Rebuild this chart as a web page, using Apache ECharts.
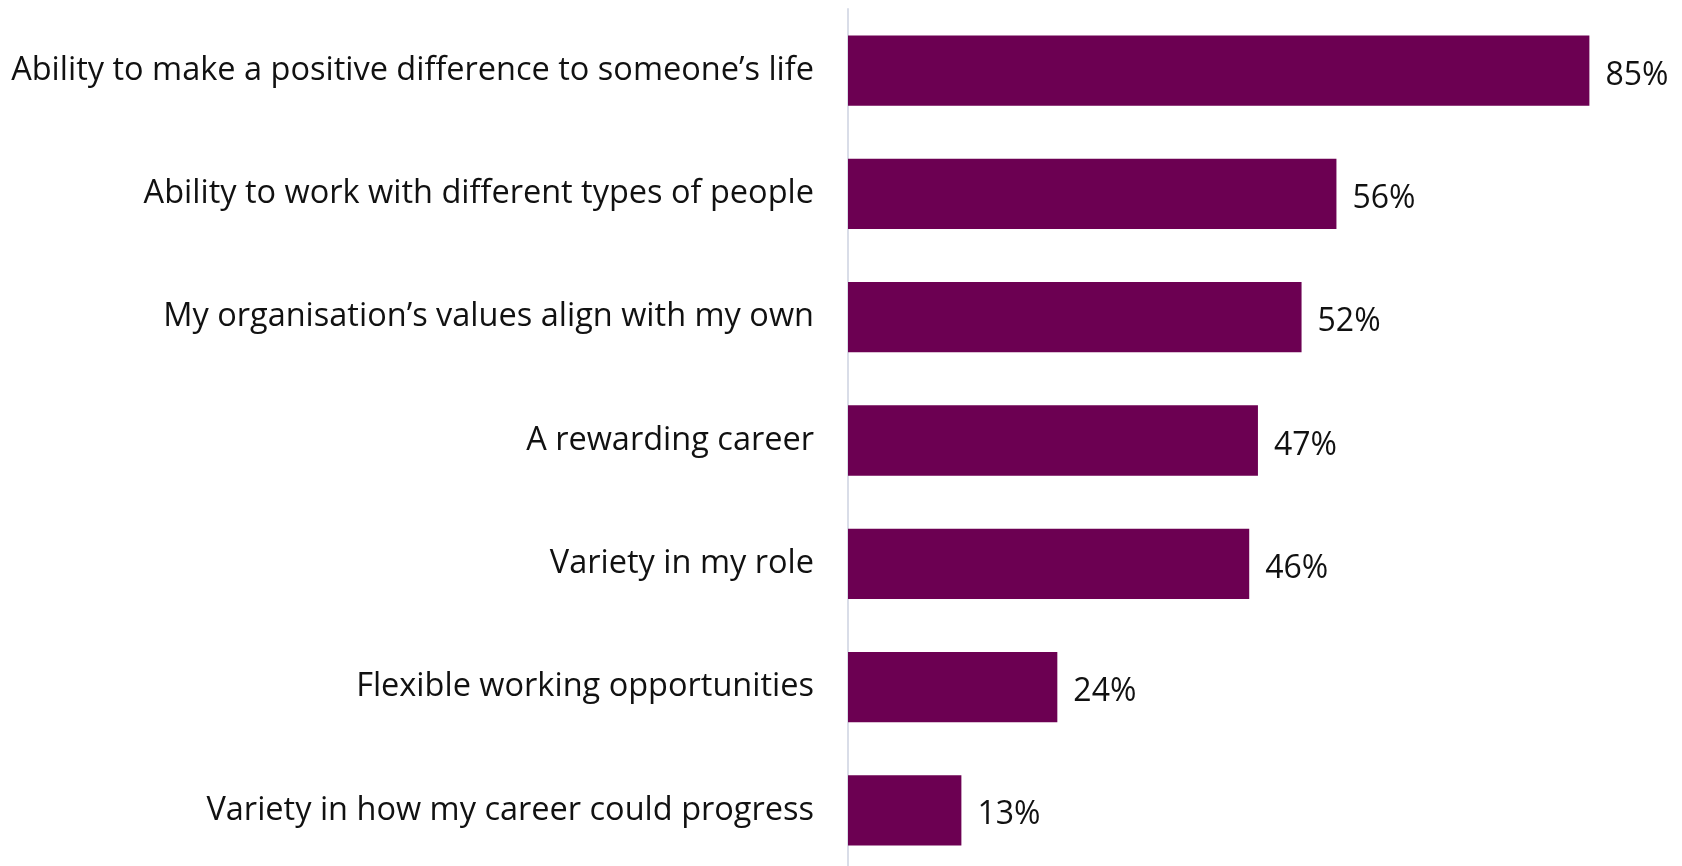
<!DOCTYPE html>
<html>
<head>
<meta charset="utf-8">
<script src="https://cdn.jsdelivr.net/npm/echarts@6/dist/echarts.min.js"></script>
<style>
  html, body { margin: 0; padding: 0; background: #ffffff; }
  #chart { width: 1682px; height: 866px; }
</style>
</head>
<body>
<div id="chart"></div>
<script>
// Reasons for working in the role, share of respondents (%)
const categories = [
  'Ability to make a positive difference to someone\u2019s life',
  'Ability to work with different types of people',
  'My organisation\u2019s values align with my own',
  'A rewarding career',
  'Variety in my role',
  'Flexible working opportunities',
  'Variety in how my career could progress'
];
const values = [85, 56, 52, 47, 46, 24, 13];

const chart = echarts.init(document.getElementById('chart'));
chart.setOption({
  animation: false,
  grid: {
    left: 848, top: 9, right: 49, bottom: -6,
    containLabel: false,
    outerBoundsMode: 'none'
  },
  xAxis: {
    type: 'value',
    min: 0,
    max: 90,
    show: false
  },
  yAxis: {
    type: 'category',
    data: categories,
    inverse: true,
    axisLine: { show: true, lineStyle: { color: '#d9dde8', width: 2 } },
    axisTick: { show: false },
    axisLabel: {
      margin: 34,
      fontFamily: 'Open Sans',
      fontSize: 32.5,
      color: '#111111'
    }
  },
  series: [{
    type: 'bar',
    data: values,
    barCategoryGap: '43%',
    itemStyle: { color: '#6c0052' },
    label: {
      show: true,
      position: 'right',
      distance: 16,
      offset: [0, 5],
      formatter: '{c}%',
      fontFamily: 'Open Sans',
      fontSize: 32,
      color: '#111111'
    }
  }]
});
</script>
</body>
</html>
